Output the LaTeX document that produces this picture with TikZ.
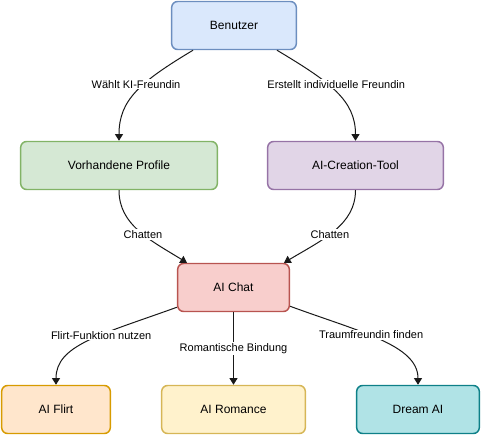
\documentclass[tikz,border=0pt]{standalone}
\usepackage{fontspec}
\setmainfont{Liberation Sans}
\usetikzlibrary{arrows.meta,calc}
\definecolor{bluef}{HTML}{DAE8FC}\definecolor{bluel}{HTML}{6C8EBF}
\definecolor{greenf}{HTML}{D5E8D4}\definecolor{greenl}{HTML}{82B366}
\definecolor{purpf}{HTML}{E1D5E7}\definecolor{purpl}{HTML}{9673A6}
\definecolor{redf}{HTML}{F8CECC}\definecolor{redl}{HTML}{B85450}
\definecolor{orf}{HTML}{FFE6CC}\definecolor{orl}{HTML}{D79B00}
\definecolor{yelf}{HTML}{FFF2CC}\definecolor{yell}{HTML}{D6B656}
\definecolor{tealf}{HTML}{B0E3E6}\definecolor{teall}{HTML}{0E8088}
\tikzset{
  box/.style={draw, rounded corners=4.5pt, line width=1.1pt, minimum height=36pt, inner sep=0pt,
    font=\fontsize{9}{11}\selectfont, text=black},
  conn/.style={line width=0.75pt, draw=black!90, -{Triangle[length=5pt,width=6pt]}},
  lbl/.style={fill=white, inner sep=1pt, font=\fontsize{8.25}{10}\selectfont, text=black}
}
\begin{document}
\begin{tikzpicture}[x=0.75pt,y=-0.75pt]
\useasboundingbox (0,0) rectangle (481,435);
\node[box, fill=bluef, draw=bluel, minimum width=93.5pt] (ben) at (234,25.5) {Benutzer};
\node[box, fill=greenf, draw=greenl, minimum width=147.5pt] (vp) at (119,165.5) {Vorhandene Profile};
\node[box, fill=purpf, draw=purpl, minimum width=131.75pt] (act) at (355.5,165.5) {AI-Creation-Tool};
\node[box, fill=redf, draw=redl, minimum width=83.75pt] (chat) at (233.5,287.5) {AI Chat};
\node[box, fill=orf, draw=orl, minimum width=81.5pt] (flirt) at (56,409.5) {AI Flirt};
\node[box, fill=yelf, draw=yell, minimum width=107.75pt] (rom) at (233.5,409.5) {AI Romance};
\node[box, fill=tealf, draw=teall, minimum width=92pt] (dream) at (418,409.5) {Dream AI};

\draw[conn] ($(ben.south)+(-41,0)$) .. controls (140,82) and (119,100) .. (vp.north)
  node[lbl, pos=0.4, xshift=-6pt] {Wählt KI-Freundin};
\draw[conn] ($(ben.south)+(43,0)$) .. controls (330,82) and (355.5,100) .. (act.north)
  node[lbl, pos=0.4, xshift=6.5pt] {Erstellt individuelle Freundin};
\draw[conn] (vp.south) .. controls (119,225) and (150,240) .. ($(chat.north)+(-46.5,0)$)
  node[lbl, pos=0.55] {Chatten};
\draw[conn] (act.south) .. controls (355.5,225) and (322,240) .. ($(chat.north)+(50.5,0)$)
  node[lbl, pos=0.55] {Chatten};
\draw[conn] ($(chat.south west)+(0,-5)$) .. controls (100,335) and (56,345) .. (flirt.north)
  node[lbl, pos=0.4] {Flirt-Funktion nutzen};
\draw[conn] (chat.south) -- (rom.north) node[lbl, pos=0.5] {Romantische Bindung};
\draw[conn] ($(chat.south east)+(0,-6)$) .. controls (360,332) and (418,345) .. (dream.north)
  node[lbl, pos=0.42, xshift=2pt] {Traumfreundin finden};
\end{tikzpicture}
\end{document}
